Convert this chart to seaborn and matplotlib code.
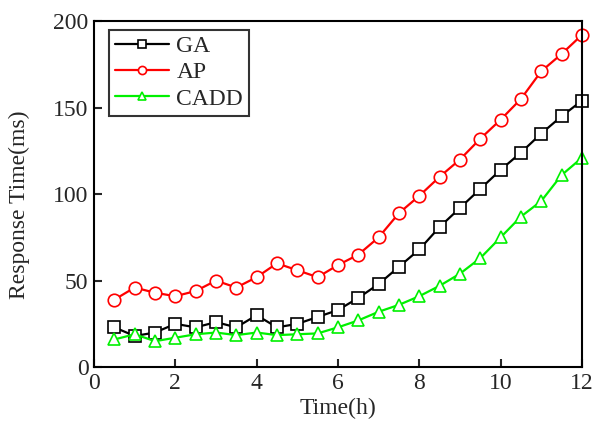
import matplotlib
matplotlib.use("Agg")
import matplotlib.pyplot as plt
import seaborn as sns
import pandas as pd
import numpy as np

time_h = [0.5, 1, 1.5, 2, 2.5, 3, 3.5, 4, 4.5, 5, 5.5, 6,
          6.5, 7, 7.5, 8, 8.5, 9, 9.5, 10, 10.5, 11, 11.5, 12]
ga = [23, 18, 20, 25, 23, 26, 23, 30, 23, 25, 29, 33,
      40, 48, 58, 68, 81, 92, 103, 114, 124, 135, 145, 154]
ap = [39, 46, 43, 41, 44, 50, 46, 52, 60, 56, 52, 59,
      65, 75, 89, 99, 110, 120, 132, 143, 155, 171, 181, 192]
cadd = [16, 19, 15, 17, 19, 20, 18.5, 20, 18.5, 19, 19.5, 23,
        27, 32, 36, 41, 47, 54, 63, 75, 87, 96, 111, 121]

series_names = ["GA", "AP", "CADD"]
series_vals = [ga, ap, cadd]
colors = {"GA": "#000000", "AP": "#ff0000", "CADD": "#00f000"}
markers = {"GA": "s", "AP": "o", "CADD": "^"}

df = pd.DataFrame({
    "Time": np.tile(time_h, len(series_names)),
    "Value": np.concatenate(series_vals),
    "Method": np.repeat(series_names, len(time_h)),
})

sns.set_style("ticks")
plt.rcParams["font.family"] = "serif"
plt.rcParams["font.serif"] = ["Liberation Serif", "TeX Gyre Termes", "DejaVu Serif"]

fig = plt.figure(figsize=(5.95, 4.22), dpi=100)
ax = fig.add_axes([0.158, 0.130, 0.820, 0.820])

for name in series_names:
    sub = df[df["Method"] == name]
    sns.lineplot(data=sub, x="Time", y="Value", ax=ax, color=colors[name],
                 marker=markers[name], markersize=9, markerfacecolor="white",
                 markeredgecolor=colors[name], markeredgewidth=1.2,
                 linewidth=1.6, label=name, clip_on=False)

ax.set_xlim(0, 12)
ax.set_ylim(0, 200)
ax.set_xticks([0, 2, 4, 6, 8, 10, 12])
ax.set_yticks([0, 50, 100, 150, 200])
ax.set_xlabel("Time(h)", fontsize=17, labelpad=3)
ax.set_ylabel("Response Time(ms)", fontsize=17)
ax.yaxis.set_label_coords(-0.131, 0.47)
ax.tick_params(direction="in", length=6, width=1.5, labelsize=17, pad=4,
               top=False, right=False)
for sp in ax.spines.values():
    sp.set_linewidth(1.5)
    sp.set_color("black")

leg = ax.legend(loc="upper left", bbox_to_anchor=(0.031, 0.975), fontsize=17,
                frameon=True, fancybox=False, edgecolor="black",
                handlelength=2.3, handletextpad=0.3, borderpad=0.25,
                labelspacing=0.2, markerscale=0.65, borderaxespad=0)
leg.get_frame().set_linewidth(1.5)

fig.savefig("out.png", dpi=100)
